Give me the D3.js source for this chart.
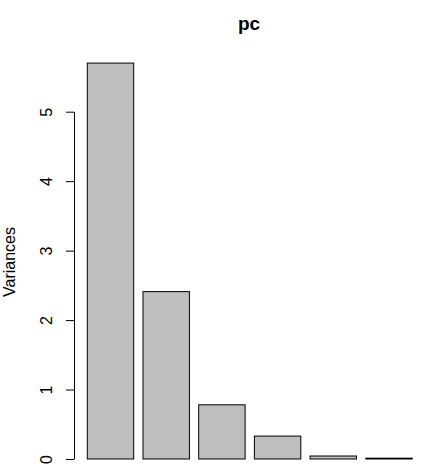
<!DOCTYPE html>
<html>
<head>
<meta charset="utf-8">
<script src="https://cdn.jsdelivr.net/npm/d3@7"></script>
<style>
  body { margin: 0; background: #fff; }
  svg text { font-family: "Liberation Sans", Arial, sans-serif; fill: #000; }
</style>
</head>
<body>
<div id="chart"></div>
<script>
const components = ['Comp.1', 'Comp.2', 'Comp.3', 'Comp.4', 'Comp.5', 'Comp.6'];
const variances = [5.70, 2.41, 0.78, 0.33, 0.043, 0.012];
const yTicks = [0, 1, 2, 3, 4, 5];

const width = 430, height = 476;

const svg = d3.select('#chart').append('svg')
  .attr('width', width).attr('height', height);

// scales
const x = d3.scaleBand()
  .domain(components)
  .range([78, 421.5])
  .paddingInner(0.1667)
  .paddingOuter(0.1667);

const y = d3.scaleLinear().domain([0, 5]).range([459, 111.7]);

// bars
svg.selectAll('rect.bar')
  .data(components.map((c, i) => ({ c, v: variances[i] })))
  .enter().append('rect')
  .attr('class', 'bar')
  .attr('x', d => x(d.c))
  .attr('y', d => y(d.v))
  .attr('width', x.bandwidth())
  .attr('height', d => y(0) - y(d.v))
  .attr('fill', '#bebebe')
  .attr('stroke', '#000')
  .attr('stroke-width', 1);

// y axis
const axis = svg.append('g')
  .attr('transform', 'translate(74,0)')
  .call(d3.axisLeft(y).tickValues(yTicks).tickFormat(d3.format('d'))
    .tickSize(8).tickSizeOuter(0).tickPadding(0));
axis.select('.domain').attr('stroke', '#000');
axis.selectAll('line').attr('stroke', '#000');
axis.selectAll('text')
  .attr('x', 0).attr('dy', 0)
  .attr('transform', 'translate(-28,0) rotate(-90)')
  .attr('text-anchor', 'middle')
  .attr('dominant-baseline', 'central')
  .style('font-size', '16px');

// y label
svg.append('text')
  .attr('transform', 'translate(15,262) rotate(-90)')
  .attr('text-anchor', 'middle')
  .style('font-size', '16px')
  .text('Variances');

// title
svg.append('text')
  .attr('x', 249).attr('y', 30)
  .attr('text-anchor', 'middle')
  .style('font-size', '19px')
  .style('font-weight', 'bold')
  .text('pc');
</script>
</body>
</html>
